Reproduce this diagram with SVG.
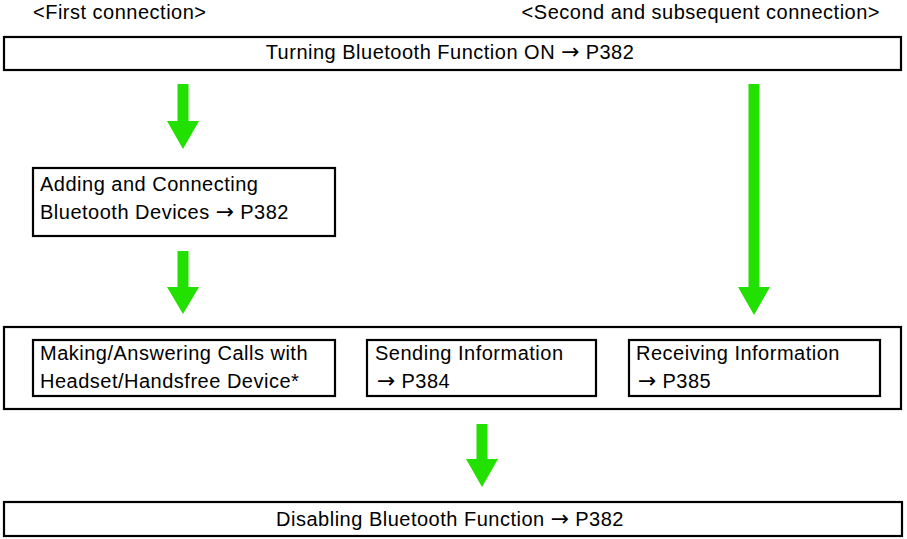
<svg xmlns="http://www.w3.org/2000/svg" width="907" height="539" viewBox="0 0 907 539">
<style>
  .box { fill: #ffffff; stroke: #000000; stroke-width: 2.2; }
  .t { font-family: "Liberation Sans", Arial, Helvetica, sans-serif; font-size: 20px; letter-spacing: 0.5px; fill: #000000; }
  .ar { font-family: "DejaVu Sans", sans-serif; font-size: 22px; letter-spacing: 0; }
  .mid { text-anchor: middle; }
  .arrow { fill: #22e000; stroke: none; }
</style>
<rect width="907" height="539" fill="#ffffff"/>
<text class="t" x="33" y="19">&lt;First connection&gt;</text>
<text class="t" x="880" y="19" text-anchor="end">&lt;Second and subsequent connection&gt;</text>

<g id="turning-on">
  <rect class="box" x="4" y="37" width="897" height="33"/>
  <text class="t mid" x="450" y="59">Turning Bluetooth Function ON <tspan class="ar">→</tspan> P382</text>
</g>

<g id="adding">
  <rect class="box" x="33" y="168" width="302" height="68"/>
  <text class="t" x="40" y="191">Adding and Connecting</text>
  <text class="t" x="40" y="219">Bluetooth Devices <tspan class="ar">→</tspan> P382</text>
</g>

<g id="usage">
  <rect class="box" x="4" y="327" width="897" height="82"/>
  <g id="calls">
    <rect class="box" x="33" y="340" width="302" height="56"/>
    <text class="t" x="40" y="360">Making/Answering Calls with</text>
    <text class="t" x="40" y="388">Headset/Handsfree Device*</text>
  </g>
  <g id="sending">
    <rect class="box" x="367" y="340" width="229" height="56"/>
    <text class="t" x="375" y="360">Sending Information</text>
    <text class="t" x="377" y="388"><tspan class="ar">→</tspan> P384</text>
  </g>
  <g id="receiving">
    <rect class="box" x="629" y="340" width="251" height="56"/>
    <text class="t" x="636" y="360">Receiving Information</text>
    <text class="t" x="638" y="388"><tspan class="ar">→</tspan> P385</text>
  </g>
</g>

<g id="disabling">
  <rect class="box" x="4" y="502" width="898" height="34"/>
  <text class="t mid" x="450" y="526">Disabling Bluetooth Function <tspan class="ar">→</tspan> P382</text>
</g>

<g id="connectors">
  <polygon class="arrow" points="177.5,84 188.5,84 188.5,121 199,121 183,149 167,121 177.5,121"/>
  <polygon class="arrow" points="177.5,251 188.5,251 188.5,287 199,287 183,314 167,287 177.5,287"/>
  <polygon class="arrow" points="748.5,84 759.5,84 759.5,287 770,287 754,315 738,287 748.5,287"/>
  <polygon class="arrow" points="476.5,424 487.5,424 487.5,459 498,459 482,487 466,459 476.5,459"/>
</g>
</svg>
